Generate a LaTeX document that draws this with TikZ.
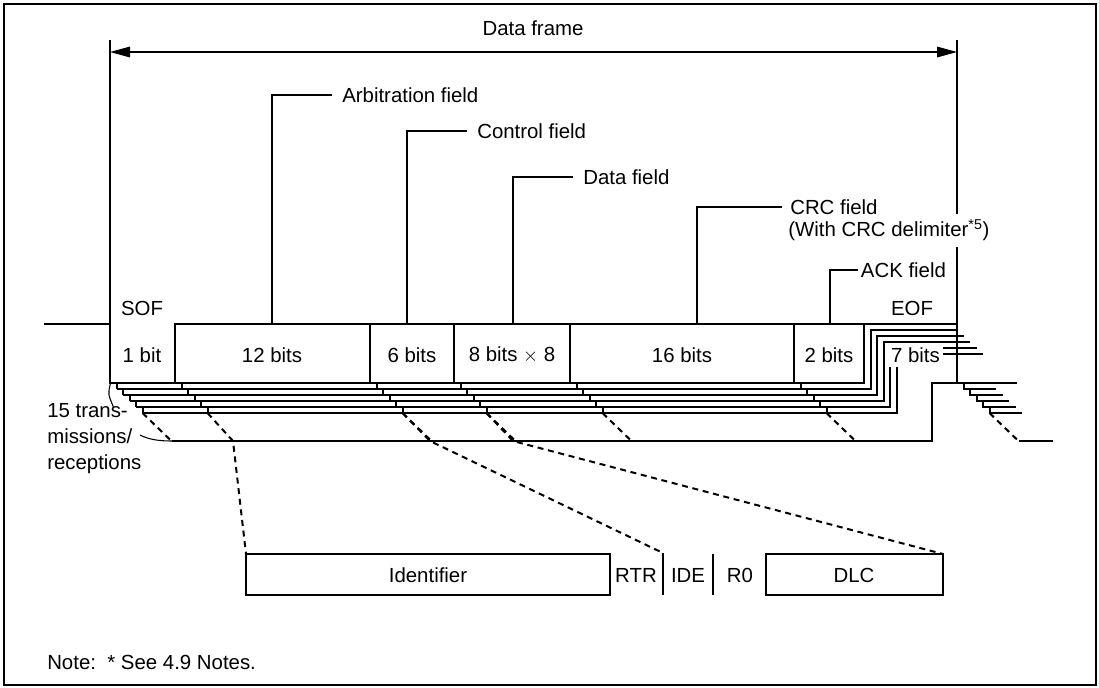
\documentclass[tikz,border=0pt]{standalone}
\usepackage{fontspec}
\setmainfont{Liberation Sans}
\usepackage{tikz}
\usetikzlibrary{arrows.meta}
\tikzset{
  field/.style={line width=1.5pt},
  leader/.style={line width=0.8pt},
  stretch/.style={line width=1.5pt,dash pattern=on 4.5pt off 3.5pt},
  lbl/.style={font=\fontsize{15.3}{19.5}\selectfont,inner sep=0pt,text=black},
  tag/.style={lbl,anchor=west,inner xsep=7.5pt},
  span/.style={leader,{Triangle[length=15pt,width=8pt]}-{Triangle[length=15pt,width=8pt]}}
}
\begin{document}
\begin{tikzpicture}[x=0.75pt,y=-0.75pt]
  \useasboundingbox (0,0) rectangle (1099,687);
  \draw[line width=1.5pt] (3.5,4) rectangle (1095.5,685);

  % frame extent
  \draw[leader] (110,40) -- (110,324);
  \draw[leader] (957,40) -- (957,324);
  \draw[span] (110,52) -- (957,52);
  \node[lbl] (frame) at (533,28) {Data frame};

  % main frame
  \draw[field] (44,324) -- (110,324) -- (110,383) -- (864,383) -- (864,324);
  \draw[field] (175,383) -- (175,324) -- (957,324) -- (957,383);
  \foreach \x in {370,454,570,794} {\draw[field] (\x,324) -- (\x,383);}

  % stacked copies
  \foreach \k in {1,...,5} {
    \pgfmathsetmacro{\sx}{6.5*\k}
    \pgfmathsetmacro{\ylo}{383+6*\k}
    \pgfmathsetmacro{\yup}{377+6*\k}
    \pgfmathsetmacro{\ytop}{324+6*\k}
    \foreach \b in {110,175,370,454,570,794}
      {\draw[field] (\b+\sx,\yup) -- (\b+\sx,\ylo);}
    \draw[field] (110+\sx,\ylo) -- (864+\sx,\ylo) -- (864+\sx,\ytop) -- (950.5+\sx,\ytop);
    \draw[field] (957+\sx,\yup) -- (957+\sx,\ylo) -- (989.5+\sx,\ylo);
  }
  \foreach \b in {110,370,454,570,794,957}
    {\draw[stretch] (\b+32.5,413) -- (\b+61.5,441);}
  \draw[field] (171.5,441) -- (932,441) -- (932,383) -- (1017,383);
  \draw[field] (1018.5,441) -- (1053,441);

  % field labels
  \node[lbl] (sof) at (142,308) {SOF};
  \node[lbl] (eof) at (912,308) {EOF};
  \node[lbl] (b1) at (142,355) {1 bit};
  \node[lbl] (b12) at (272,355) {12 bits};
  \node[lbl] (b6) at (412,355) {6 bits};
  \node[lbl] (b64) at (512,355) {8 bits $\times$ 8};
  \node[lbl] (b16) at (682,355) {16 bits};
  \node[lbl] (b2) at (829,355) {2 bits};
  \node[lbl,fill=white,minimum width=41pt,minimum height=17pt] (b7) at (915.5,355.5) {7 bits};

  % field names
  \coordinate (arbtop) at (272,324);
  \coordinate (ctltop) at (407,324);
  \coordinate (dattop) at (513,324);
  \coordinate (crctop) at (697,324);
  \coordinate (acktop) at (830,324);
  \node[tag,inner xsep=4.5pt,inner ysep=4.5pt,fill=white] (crcnote) at (782,230)
    {(With CRC delimiter\textsuperscript{*5})};
  \node[tag] (arb) at (332,95) {Arbitration field};
  \node[tag] (ctl) at (467,131) {Control field};
  \node[tag] (dat) at (573,177) {Data field};
  \node[tag,inner xsep=6pt] (crc) at (782,207) {CRC field};
  \node[tag,inner xsep=2pt] (ack) at (858,270) {ACK field};
  \draw[leader] (arbtop) |- (arb.west);
  \draw[leader] (ctltop) |- (ctl.west);
  \draw[leader] (dattop) |- (dat.west);
  \draw[leader] (crctop) |- (crc.west);
  \draw[leader] (acktop) |- (ack.west);

  % count label
  \node[lbl,align=left,anchor=north west] (count) at (47,403) {15 trans-\\missions/\\receptions};
  \draw[leader] (110.3,384) .. controls (108,394) .. (113.3,406.7);
  \draw[leader] (140,435) .. controls (150,440) and (160,441) .. (173,441);

  % arbitration and control bits
  \draw[field] (246,554) rectangle (610,595);
  \draw[field] (766,554) rectangle (943,595);
  \draw[field] (663,553) -- (663,595);
  \draw[field] (713,554) -- (713,595);
  \node[lbl] (ident) at (428,575) {Identifier};
  \node[lbl] (rtr) at (636,575) {RTR};
  \node[lbl] (ide) at (688,575) {IDE};
  \node[lbl] (rzero) at (740,575) {R0};
  \node[lbl] (dlc) at (854,575) {DLC};
  \draw[stretch] (207.5,413) -- (233,441) -- (246,554);
  \draw[stretch] (402.5,413) -- (430,441) -- (663,553);
  \draw[stretch] (486.5,413) -- (513,441) -- (943,554);

  \node[lbl,anchor=west] (note) at (47,662) {Note:\ \ * See 4.9 Notes.};
\end{tikzpicture}
\end{document}
